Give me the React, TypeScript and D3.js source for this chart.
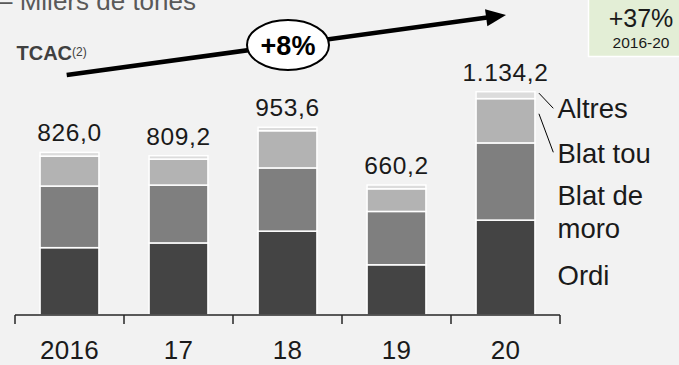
import React from "react";
import * as d3 from "d3";

const years = ["2016", "17", "18", "19", "20"];
const totals = [826.0, 809.2, 953.6, 660.2, 1134.2];
const totalLabels = ["826,0", "809,2", "953,6", "660,2", "1.134,2"];
const ordi = [342, 366, 426, 255, 482];
const blatDeMoro = [313, 294, 321, 271, 392];
const blatTou = [152, 132, 189, 115, 225];
const altres = [19, 17.2, 17.6, 19.2, 35.2];
const seriesNames = ["Ordi", "Blat de moro", "Blat tou", "Altres"];
const seriesColors = ["#444444", "#7f7f7f", "#b3b3b3", "#dcdcdc"];

const W = 679;
const H = 365;
const FONT = "'Liberation Sans', Arial, sans-serif";

export default function App() {
  const x = d3.scaleBand<string>().domain(years).range([15, 560]).padding(0);
  const y = d3.scaleLinear().domain([0, d3.max(totals) as number]).range([315, 91.7]);
  const barW = x.bandwidth() * 0.54;

  const rows = years.map((yr, i) => ({
    year: yr,
    Ordi: ordi[i],
    "Blat de moro": blatDeMoro[i],
    "Blat tou": blatTou[i],
    Altres: altres[i],
  }));
  const stacked = d3.stack<any>().keys(seriesNames)(rows);

  const cx = (yr: string) => (x(yr) as number) + x.bandwidth() / 2;
  const last = years[years.length - 1];
  const lastIdx = years.length - 1;
  const barRight = cx(last) + barW / 2;

  const altresMid = y((stacked[3][lastIdx][0] + stacked[3][lastIdx][1]) / 2);
  const touMid = y((stacked[2][lastIdx][0] + stacked[2][lastIdx][1]) / 2) - 7;

  const a0 = [66.7, 75];
  const tip = [506, 15];
  const dx = tip[0] - a0[0];
  const dy = tip[1] - a0[1];
  const len = Math.hypot(dx, dy);
  const ux = dx / len;
  const uy = dy / len;
  const px = -uy;
  const py = ux;
  const headL = 20;
  const headW = 8.5;
  const base = [tip[0] - headL * ux, tip[1] - headL * uy];
  const head = `${tip[0]},${tip[1]} ${base[0] + headW * px},${base[1] + headW * py} ${base[0] - headW * px},${base[1] - headW * py}`;

  const ticks = [...years.map((yr) => x(yr) as number), 560];

  return (
    <svg
      width={W}
      height={H}
      style={{ position: "absolute", left: 0, top: 0, background: "#f2f2f2" }}
      fontFamily={FONT}
    >
      <rect x={0} y={0} width={W} height={H} fill="#f2f2f2" />

      <text x={-2} y={10} fontSize={26} fill="#595959">
        – Milers de tones
      </text>

      <text x={16.5} y={60} fontSize={20} fontWeight="bold" fill="#404040">
        TCAC
        <tspan fontSize={12} fontWeight="normal" dy={-4}>
          (2)
        </tspan>
      </text>

      <line x1={a0[0]} y1={a0[1]} x2={base[0] + ux * 1} y2={base[1] + uy * 1} stroke="#000" strokeWidth={4.5} />
      <polygon points={head} fill="#000" />
      <ellipse cx={288} cy={45} rx={41} ry={25} fill="#fff" stroke="#000" strokeWidth={2} />
      <text x={288} y={55} fontSize={27} fontWeight="bold" textAnchor="middle" fill="#000">
        +8%
      </text>

      <rect x={588.5} y={-2} width={95} height={58.5} fill="#e3eed6" stroke="#ffffff" strokeWidth={1.5} />
      <text x={641} y={26.7} fontSize={25} textAnchor="middle" fill="#1a1a1a">
        +37%
      </text>
      <text x={641} y={48.3} fontSize={15.5} textAnchor="middle" fill="#1a1a1a">
        2016-20
      </text>

      {stacked.map((s, si) => (
        <g key={seriesNames[si]}>
          {s.map((d, i) => (
            <rect
              key={years[i]}
              x={cx(years[i]) - barW / 2}
              y={y(d[1])}
              width={barW}
              height={y(d[0]) - y(d[1])}
              fill={seriesColors[si]}
              stroke="#ffffff"
              strokeWidth={1.5}
            />
          ))}
        </g>
      ))}

      {years.map((yr, i) => (
        <text
          key={yr}
          x={cx(yr)}
          y={y(totals[i]) - 11}
          fontSize={24.5}
          letterSpacing={0.6}
          textAnchor="middle"
          fill="#1a1a1a"
        >
          {totalLabels[i]}
        </text>
      ))}

      <line x1={15} y1={315} x2={560} y2={315} stroke="#262626" strokeWidth={1.5} />
      {ticks.map((t, i) => (
        <line key={i} x1={t} y1={315} x2={t} y2={324} stroke="#262626" strokeWidth={1.5} />
      ))}
      {years.map((yr) => (
        <text key={yr} x={cx(yr)} y={359.3} fontSize={26} letterSpacing={0.3} textAnchor="middle" fill="#1a1a1a">
          {yr}
        </text>
      ))}

      <line x1={barRight + 4} y1={altresMid - 2} x2={553.3} y2={108.3} stroke="#000" strokeWidth={1} />
      <line x1={barRight + 4} y1={touMid} x2={553.3} y2={152.3} stroke="#000" strokeWidth={1} />
      <g fontSize={27.5} fill="#1a1a1a">
        <text x={557.5} y={117.5}>Altres</text>
        <text x={557.5} y={162.7}>Blat tou</text>
        <text x={557.5} y={205}>Blat de</text>
        <text x={557.5} y={238.3}>moro</text>
        <text x={557.5} y={285}>Ordi</text>
      </g>
    </svg>
  );
}
